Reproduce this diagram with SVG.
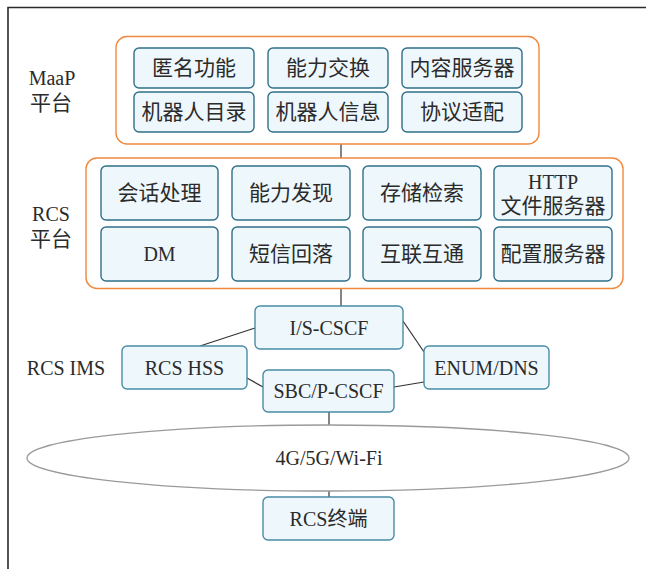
<svg xmlns="http://www.w3.org/2000/svg" width="646" height="569" viewBox="0 0 646 569">
<style>
.t{font-family:"Liberation Serif","Noto Sans CJK SC",serif;font-size:20px;fill:#2b2b2b;text-anchor:middle;dominant-baseline:central}
.z{font-size:21px}
.grp{fill:#fff;stroke:#f0883e;stroke-width:1.4}
.box{fill:#eef7fc;stroke:#2f7088;stroke-width:1.4}
.ims{fill:#eef7fc;stroke:#4a8ca6;stroke-width:1.4}
.c{stroke:#333;stroke-width:1.2;fill:none}
</style>
<rect width="646" height="569" fill="#fff"/>
<path d="M8 569V7.5H646" fill="none" stroke="#2a2a2a" stroke-width="1.6"/>
<g id="connectors">
<line class="c" x1="341" y1="144" x2="341" y2="158"/>
<line class="c" x1="341" y1="289" x2="341" y2="306"/>
<line class="c" x1="200" y1="346" x2="255" y2="328"/>
<line class="c" x1="403" y1="321" x2="424" y2="352"/>
<line class="c" x1="247" y1="378" x2="263" y2="387"/>
<line class="c" x1="394" y1="387" x2="424" y2="382"/>
<line class="c" x1="329" y1="412" x2="329" y2="425"/>
<line class="c" x1="329" y1="491" x2="329" y2="497"/>
</g>
<g id="maap-label"><text class="t" x="52" y="78">MaaP</text><text class="t z" x="51" y="103">平台</text></g>
<g id="rcs-label"><text class="t" x="51" y="214">RCS</text><text class="t z" x="51" y="239">平台</text></g>
<g id="ims-label"><text class="t" x="66" y="368">RCS IMS</text></g>
<g id="maap"><rect class="grp" x="116" y="36.5" width="423" height="107.5" rx="11"/></g>
<g id="n-anon"><rect class="box" x="134" y="48" width="120" height="40" rx="5"/><text class="t z" x="194" y="68">匿名功能</text></g>
<g id="n-capx"><rect class="box" x="268" y="48" width="120" height="40" rx="5"/><text class="t z" x="328" y="68">能力交换</text></g>
<g id="n-content"><rect class="box" x="402" y="48" width="120" height="40" rx="5"/><text class="t z" x="462" y="68">内容服务器</text></g>
<g id="n-botdir"><rect class="box" x="134" y="92" width="120" height="40" rx="5"/><text class="t z" x="194" y="112">机器人目录</text></g>
<g id="n-botinfo"><rect class="box" x="268" y="92" width="120" height="40" rx="5"/><text class="t z" x="328" y="112">机器人信息</text></g>
<g id="n-proto"><rect class="box" x="402" y="92" width="120" height="40" rx="5"/><text class="t z" x="462" y="112">协议适配</text></g>
<g id="rcs"><rect class="grp" x="86" y="158" width="537" height="130.5" rx="11"/></g>
<g id="n-session"><rect class="box" x="101" y="166" width="117" height="54" rx="5"/><text class="t z" x="159.5" y="193">会话处理</text></g>
<g id="n-capd"><rect class="box" x="232" y="166" width="118" height="54" rx="5"/><text class="t z" x="291" y="193">能力发现</text></g>
<g id="n-store"><rect class="box" x="363" y="166" width="118" height="54" rx="5"/><text class="t z" x="422" y="193">存储检索</text></g>
<g id="n-http"><rect class="box" x="494" y="166" width="118" height="54" rx="5"/><text class="t" x="553" y="182">HTTP</text><text class="t z" x="553" y="206">文件服务器</text></g>
<g id="n-dm"><rect class="box" x="101" y="227" width="117" height="54" rx="5"/><text class="t" x="159.5" y="254">DM</text></g>
<g id="n-sms"><rect class="box" x="232" y="227" width="118" height="54" rx="5"/><text class="t z" x="291" y="254">短信回落</text></g>
<g id="n-interop"><rect class="box" x="363" y="227" width="118" height="54" rx="5"/><text class="t z" x="422" y="254">互联互通</text></g>
<g id="n-config"><rect class="box" x="494" y="227" width="118" height="54" rx="5"/><text class="t z" x="553" y="254">配置服务器</text></g>
<g id="n-iscscf"><rect class="ims" x="255" y="306" width="148" height="43" rx="5"/><text class="t" x="329" y="327.5">I/S-CSCF</text></g>
<g id="n-hss"><rect class="ims" x="122" y="346" width="125" height="43" rx="5"/><text class="t" x="184.5" y="367.5">RCS HSS</text></g>
<g id="n-enum"><rect class="ims" x="424" y="346" width="125" height="43" rx="5"/><text class="t" x="486.5" y="367.5">ENUM/DNS</text></g>
<g id="n-sbc"><rect class="ims" x="263" y="370" width="131" height="42" rx="5"/><text class="t" x="328.5" y="391">SBC/P-CSCF</text></g>
<g id="n-net"><ellipse cx="328" cy="458" rx="301" ry="33" fill="#fff" stroke="#9a9a9a" stroke-width="1.3"/><text class="t" x="329" y="458">4G/5G/Wi-Fi</text></g>
<g id="n-term"><rect class="ims" x="263" y="497" width="131" height="43" rx="5"/><text class="t" x="328.5" y="518.5">RCS终端</text></g>
</svg>
